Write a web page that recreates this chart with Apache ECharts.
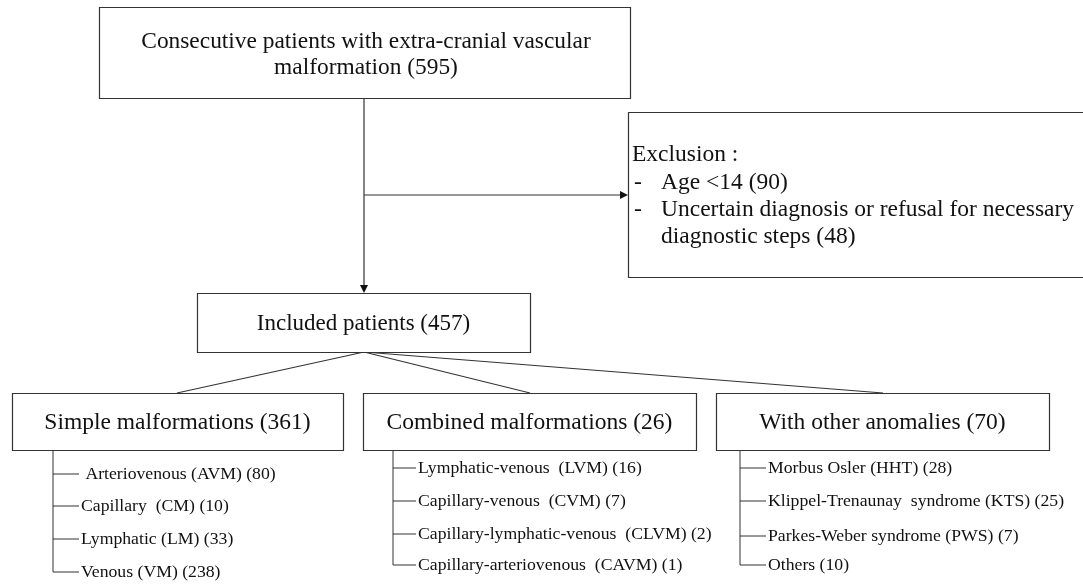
<!DOCTYPE html>
<html><head><meta charset="utf-8">
<script src="https://cdn.jsdelivr.net/npm/echarts@6/dist/echarts.min.js"></script>
<style>html,body{margin:0;padding:0;background:#fff}#c{width:1083px;height:588px}</style>
</head><body><div id="c"></div>
<script>
// ---- data ----
const topLines = ['Consecutive patients with extra-cranial vascular', 'malformation'];
const topCount = 595;
const exclusionTitle = 'Exclusion :';
const exclusionItems = ['Age <14', 'Uncertain diagnosis or refusal for necessary', 'diagnostic steps'];
const exclusionCounts = [90, null, 48];
const includedLabel = 'Included patients';
const includedCount = 457;
const groupNames = ['Simple malformations', 'Combined malformations', 'With other anomalies'];
const groupCounts = [361, 26, 70];
const simpleItems = [' Arteriovenous (AVM)', 'Capillary  (CM)', 'Lymphatic (LM)', 'Venous (VM)'];
const simpleCounts = [80, 10, 33, 238];
const combinedItems = ['Lymphatic-venous  (LVM)', 'Capillary-venous  (CVM)', 'Capillary-lymphatic-venous  (CLVM)', 'Capillary-arteriovenous  (CAVM)'];
const combinedCounts = [16, 7, 2, 1];
const otherItems = ['Morbus Osler (HHT)', 'Klippel-Trenaunay  syndrome (KTS)', 'Parkes-Weber syndrome (PWS)', 'Others'];
const otherCounts = [28, 25, 7, 10];

// ---- layout ----
const FONT = '"Liberation Serif","Times New Roman",serif';
const LINE = '#333';
const TXT = '#111';
const L = {
  top: {x: 99, y: 7, w: 531, h: 91, cx: 366, lineY: [42, 68]},
  mainX: 364,
  incl: {x: 197, y: 293, w: 333, h: 59},
  exclY: 195,
  excl: {x: 628, y: 112, w: 470, h: 165, textX: 632, dashX: 634, itemX: 661, ys: [155, 183, 210, 237]},
  groups: [
    {x: 12, w: 331, join: 177, vx: 53, tx: 79, ys: [474, 506, 539, 572]},
    {x: 363, w: 333, join: 530, vx: 393, tx: 416, ys: [468, 501, 534, 565]},
    {x: 716, w: 333, join: 883, vx: 740, tx: 766, ys: [468, 501, 536, 565]}
  ],
  gy: 393, gh: 57
};
const groupItems = [simpleItems, combinedItems, otherItems];
const groupItemCounts = [simpleCounts, combinedCounts, otherCounts];

const g = [];
function rect(b) {
  g.push({type: 'rect', shape: {x: b.x + 0.5, y: b.y + 0.5, width: b.w, height: b.h},
    style: {fill: '#fff', stroke: LINE, lineWidth: 1.2}});
}
function text(t, x, y, size, align) {
  g.push({type: 'text', x: x, y: y, style: {text: t, font: size + 'px ' + FONT, fill: TXT,
    align: align || 'left', verticalAlign: 'middle'}});
}
function line(pts, w) {
  g.push({type: 'polyline', shape: {points: pts}, style: {stroke: LINE, lineWidth: w || 1.2, fill: null}});
}
function tri(pts) {
  g.push({type: 'polygon', shape: {points: pts}, style: {fill: '#111'}});
}

// top box
rect(L.top);
text(topLines[0], L.top.cx, L.top.lineY[0], 23.4, 'center');
text(topLines[1] + ' (' + topCount + ')', L.top.cx, L.top.lineY[1], 23.4, 'center');

// main vertical & arrows
line([[L.mainX, L.top.y + L.top.h], [L.mainX, L.incl.y - 7]]);
tri([[L.mainX - 4, L.incl.y - 8], [L.mainX + 4, L.incl.y - 8], [L.mainX, L.incl.y]]);
line([[L.mainX, L.exclY], [L.excl.x - 7, L.exclY]]);
tri([[L.excl.x - 8, L.exclY - 4], [L.excl.x - 8, L.exclY + 4], [L.excl.x, L.exclY]]);

// exclusion box
rect(L.excl);
text(exclusionTitle, L.excl.textX, L.excl.ys[0], 23.5);
exclusionItems.forEach((it, i) => {
  const y = L.excl.ys[i + 1];
  const lbl = exclusionCounts[i] == null ? it : it + ' (' + exclusionCounts[i] + ')';
  if (i < 2) text('-', L.excl.dashX, y, 23.5);
  text(lbl, L.excl.itemX, y, 23.5);
});

// included
const inclCx = 364;
const inclBot = L.incl.y + L.incl.h;
L.groups.forEach(gr => line([[inclCx, inclBot], [gr.join, L.gy]]));
rect(L.incl);
text(includedLabel + ' (' + includedCount + ')', L.incl.x + L.incl.w / 2, L.incl.y + L.incl.h / 2 + 1, 23, 'center');

// groups
L.groups.forEach((gr, k) => {
  rect({x: gr.x, y: L.gy, w: gr.w, h: L.gh});
  text(groupNames[k] + ' (' + groupCounts[k] + ')', gr.x + gr.w / 2, L.gy + L.gh / 2 + 1, 23.5, 'center');
  const items = groupItems[k], counts = groupItemCounts[k];
  const lastY = gr.ys[items.length - 1];
  line([[gr.vx, L.gy + L.gh], [gr.vx, lastY], [gr.tx, lastY]], 1);
  items.forEach((it, i) => {
    const y = gr.ys[i];
    if (i < items.length - 1) line([[gr.vx, y], [gr.tx, y]], 1);
    text(it + ' (' + counts[i] + ')', gr.tx + 2, y, 17.7);
  });
});

const chart = echarts.init(document.getElementById('c'), null, {renderer: 'canvas'});
chart.setOption({backgroundColor: '#fff', animation: false, graphic: {elements: g}});
</script></body></html>
